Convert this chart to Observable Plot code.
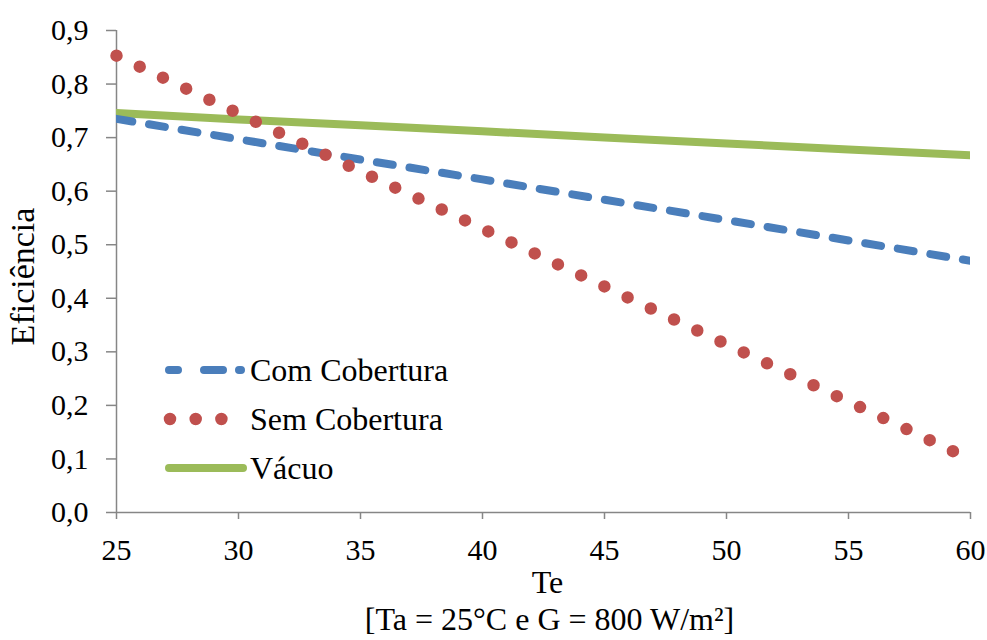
<!DOCTYPE html>
<html>
<head>
<meta charset="utf-8">
<script src="https://cdn.jsdelivr.net/npm/d3@7"></script>
<script src="https://cdn.jsdelivr.net/npm/@observablehq/plot@0.6"></script>
<style>
  html, body { margin: 0; padding: 0; background: #fff; }
  #chart { position: relative; width: 987px; height: 640px; }
  #chart svg { display: block; }
</style>
</head>
<body>
<div id="chart"></div>
<script>
// ---- data ----
const te = [25, 30, 35, 40, 45, 50, 55, 60];
const comCobertura = [0.735, 0.697, 0.659, 0.622, 0.584, 0.546, 0.508, 0.470];
const semCobertura = [0.853, 0.745, 0.637, 0.530, 0.422, 0.314, 0.207, 0.099];
const vacuo = [0.746, 0.734, 0.723, 0.712, 0.700, 0.689, 0.678, 0.667];
const seriesNames = ["Com Cobertura", "Sem Cobertura", "Vácuo"];
const xTicks = [25, 30, 35, 40, 45, 50, 55, 60];
const yTicks = [0, 0.1, 0.2, 0.3, 0.4, 0.5, 0.6, 0.7, 0.8, 0.9];
const xLabel = "Te";
const xSubLabel = "[Ta = 25°C e G = 800 W/m²]";
const yLabel = "Eficiência";

const colors = { com: "#4A7EBB", sem: "#C0504D", vac: "#9BBB59" };
const axisGrey = "#868686";
const font = "'Liberation Serif', 'Times New Roman', serif";

const rows = (ys) => te.map((t, i) => ({ t, v: ys[i] }));
const fmt = (d) => d.toFixed(1).replace(".", ",");

const plot = Plot.plot({
  width: 987,
  height: 640,
  marginLeft: 116,
  marginRight: 17,
  marginTop: 30,
  marginBottom: 128,
  style: { fontFamily: font, fontSize: "30px", color: "#000", background: "#fff" },
  x: { domain: [25, 60] },
  y: { domain: [0, 0.9] },
  marks: [
    Plot.axisY(yTicks, { tickSize: 10, tickPadding: 18, tickFormat: fmt, label: null, stroke: axisGrey, fill: "#000", strokeWidth: 1.5, fontFamily: font }),
    Plot.axisX(xTicks, { tickSize: 7, tickPadding: 19, tickFormat: (d) => String(d), label: null, stroke: axisGrey, fill: "#000", strokeWidth: 1.5, fontFamily: font }),
    Plot.ruleX([25], { stroke: axisGrey, strokeWidth: 1.5 }),
    Plot.ruleY([0], { stroke: axisGrey, strokeWidth: 1.5 }),
    Plot.line(rows(vacuo), { x: "t", y: "v", stroke: colors.vac, strokeWidth: 8, strokeLinecap: "round", clip: true }),
    Plot.line(rows(comCobertura), { x: "t", y: "v", stroke: colors.com, strokeWidth: 8, strokeLinecap: "round", strokeDasharray: "16 17", clip: true }),
    Plot.line(rows(semCobertura), { x: "t", y: "v", stroke: colors.sem, strokeWidth: 12.5, strokeLinecap: "round", strokeDasharray: "0 25.7" }),
    Plot.text([xLabel], { frameAnchor: "bottom", textAnchor: "middle", dy: 80, dx: 4, fontSize: 32 }),
    Plot.text([xSubLabel], { frameAnchor: "bottom", textAnchor: "middle", dy: 117, dx: 6, fontSize: 32 }),
    Plot.text([yLabel], { frameAnchor: "left", textAnchor: "middle", rotate: -90, dx: -93, dy: 5, fontSize: 34 })
  ]
});

document.getElementById("chart").appendChild(plot);

// ---- legend (inside the plot area) ----
const svg = d3.select(plot);
const lg = svg.append("g");
const legendItems = [
  { name: seriesNames[0], color: colors.com, x1: 169, x2: 241, w: 8, dash: "9 26 19 16 2 100", y: 370, base: 381 },
  { name: seriesNames[1], color: colors.sem, x1: 170, x2: 222, w: 12.5, dash: "0 25.7", y: 419, base: 430 },
  { name: seriesNames[2], color: colors.vac, x1: 169, x2: 243, w: 8, dash: null, y: 468, base: 479 }
];
legendItems.forEach((d) => {
  const l = lg.append("line")
    .attr("x1", d.x1).attr("x2", d.x2).attr("y1", d.y).attr("y2", d.y)
    .attr("stroke", d.color).attr("stroke-width", d.w).attr("stroke-linecap", "round");
  if (d.dash) l.attr("stroke-dasharray", d.dash);
  lg.append("text").attr("x", 250).attr("y", d.base)
    .style("text-anchor", "start").style("font-size", "32px").attr("fill", "#000").text(d.name);
});

// force the serif face on every text element
svg.selectAll("text").style("font-family", font).style("font-variant", "normal");
</script>
</body>
</html>
